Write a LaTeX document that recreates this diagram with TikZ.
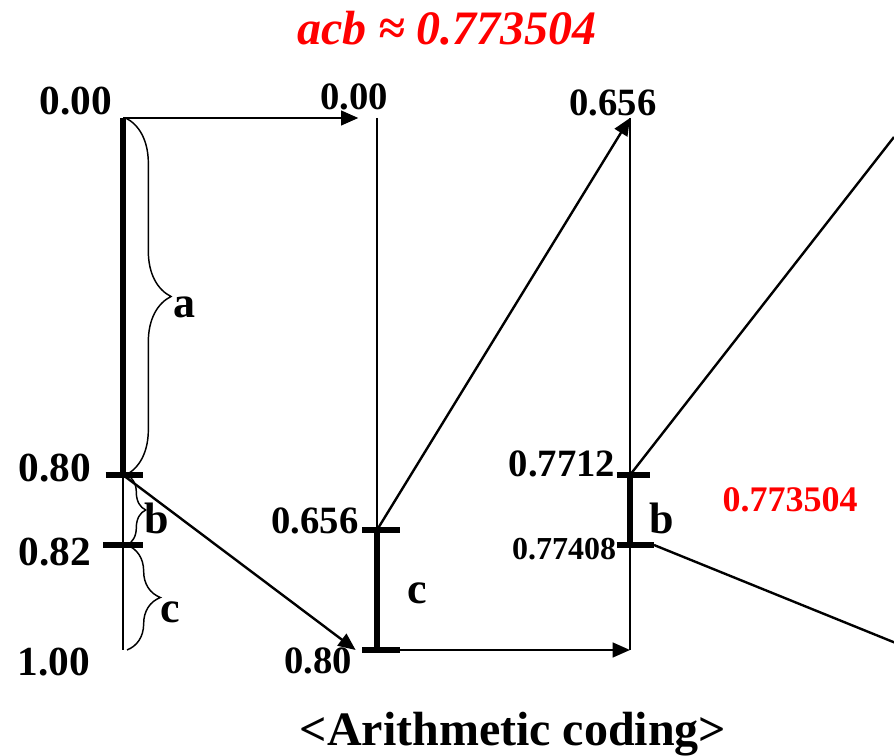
\documentclass[tikz,border=0pt]{standalone}
\usepackage{fontspec}
\setmainfont{Liberation Serif}
\usetikzlibrary{arrows.meta,decorations.pathreplacing}
\begin{document}
\begin{tikzpicture}[x=0.75pt,y=-0.75pt,
  lbl/.style={font=\bfseries\fontsize{29}{32}\selectfont, inner sep=0pt},
  biglbl/.style={font=\bfseries\fontsize{31}{34}\selectfont, inner sep=0pt},
  smalllbl/.style={font=\bfseries\fontsize{24}{28}\selectfont, inner sep=0pt},
  letter/.style={font=\bfseries\fontsize{33}{36}\selectfont, inner sep=0pt},
  thinline/.style={line width=1.8pt},
  thickline/.style={line width=3.8pt},
  tick/.style={line width=3.8pt},
  arr/.style={line width=1.8pt,-{Triangle[length=13pt,width=11pt]}},
  brc/.style={line width=1.1pt, decorate, decoration={brace, amplitude=#1}}
]
\useasboundingbox (0,0) rectangle (894,756);
% coordinates
\coordinate (a0) at (123,118);
\coordinate (a80) at (123,475);
\coordinate (a82) at (123,545);
\coordinate (a100) at (123,650);
\coordinate (b0) at (377,118);
\coordinate (b656) at (377,530);
\coordinate (b80) at (377,650);
\coordinate (c0) at (630,118);
\coordinate (c7712) at (630,475);
\coordinate (c77408) at (630,545);
\coordinate (c80) at (630,650);
\coordinate (out1) at (894,137);
\coordinate (out2) at (913,650);

% title
\node[font=\bfseries\itshape\fontsize{36}{40}\selectfont, text=red, inner sep=0pt] (title) at (447,28) {acb ≈ 0.773504};

% first bar
\draw[thickline] (a0) -- (a80);
\draw[thinline] (a80) -- (a100);
\draw[tick] ([xshift=-13]a80) -- ([xshift=15]a80);
\draw[tick] ([xshift=-15]a82) -- ([xshift=15]a82);
\node[biglbl] (l0) at (76,101) {0.00};
\node[biglbl] (l80) at (55,468) {0.80};
\node[biglbl] (l82) at (55,552) {0.82};
\node[biglbl] (l100) at (54,662) {1.00};

% braces
\draw[brc=34pt] ([xshift=2]a0) -- ([xshift=2]a80);
\draw[brc=14pt] ([xshift=3]a80) -- ([xshift=3]a82);
\draw[brc=25pt] ([xshift=3]a82) -- ([xshift=3]a100);
\node[letter] (la) at (184,307) {a};
\node[letter] (lb) at (157,518) {b};
\node[letter] (lc) at (170,612) {c};

% second bar
\draw[thinline] (b0) -- (b656);
\draw[thickline] (b656) -- (b80);
\draw[tick] ([xshift=-11]b656) -- ([xshift=17]b656);
\draw[tick] ([xshift=-11]b80) -- ([xshift=17]b80);
\node[lbl] (m0) at (354,97) {0.00};
\node[lbl] (m656) at (315,521) {0.656};
\node[lbl] (m80) at (318,661) {0.80};
\node[letter] (mc) at (417,593) {c};

% third bar
\draw[thinline] (c0) -- (c7712);
\draw[thickline] (c7712) -- (c77408);
\draw[thinline] (c77408) -- (c80);
\draw[tick] ([xshift=-10]c7712) -- ([xshift=15]c7712);
\draw[tick] ([xshift=-10]c77408) -- ([xshift=18]c77408);
\node[lbl] (r656) at (613,103) {0.656};
\node[lbl] (r7712) at (562,464) {0.7712};
\node[smalllbl] (r77408) at (564,549) {0.77408};
\node[letter] (rb) at (662,518) {b};
\node[font=\bfseries\fontsize{27}{30}\selectfont, text=red, inner sep=0pt] (res) at (790,500) {0.773504};

% arrows
\draw[arr] (a0) -- ([xshift=-14]b0);
\draw[arr] (a80) -- ([xshift=-16]b80);
\draw[arr] (b656) -- (c0);
\draw[arr] ([xshift=17]b80) -- (c80);
\draw[thinline] (c7712) -- (out1);
\draw[arr] ([xshift=18]c77408) -- (out2);

% caption
\node[font=\bfseries\fontsize{36}{40}\selectfont, inner sep=0pt] (cap) at (513,734) {<Arithmetic coding>};
\end{tikzpicture}
\end{document}
